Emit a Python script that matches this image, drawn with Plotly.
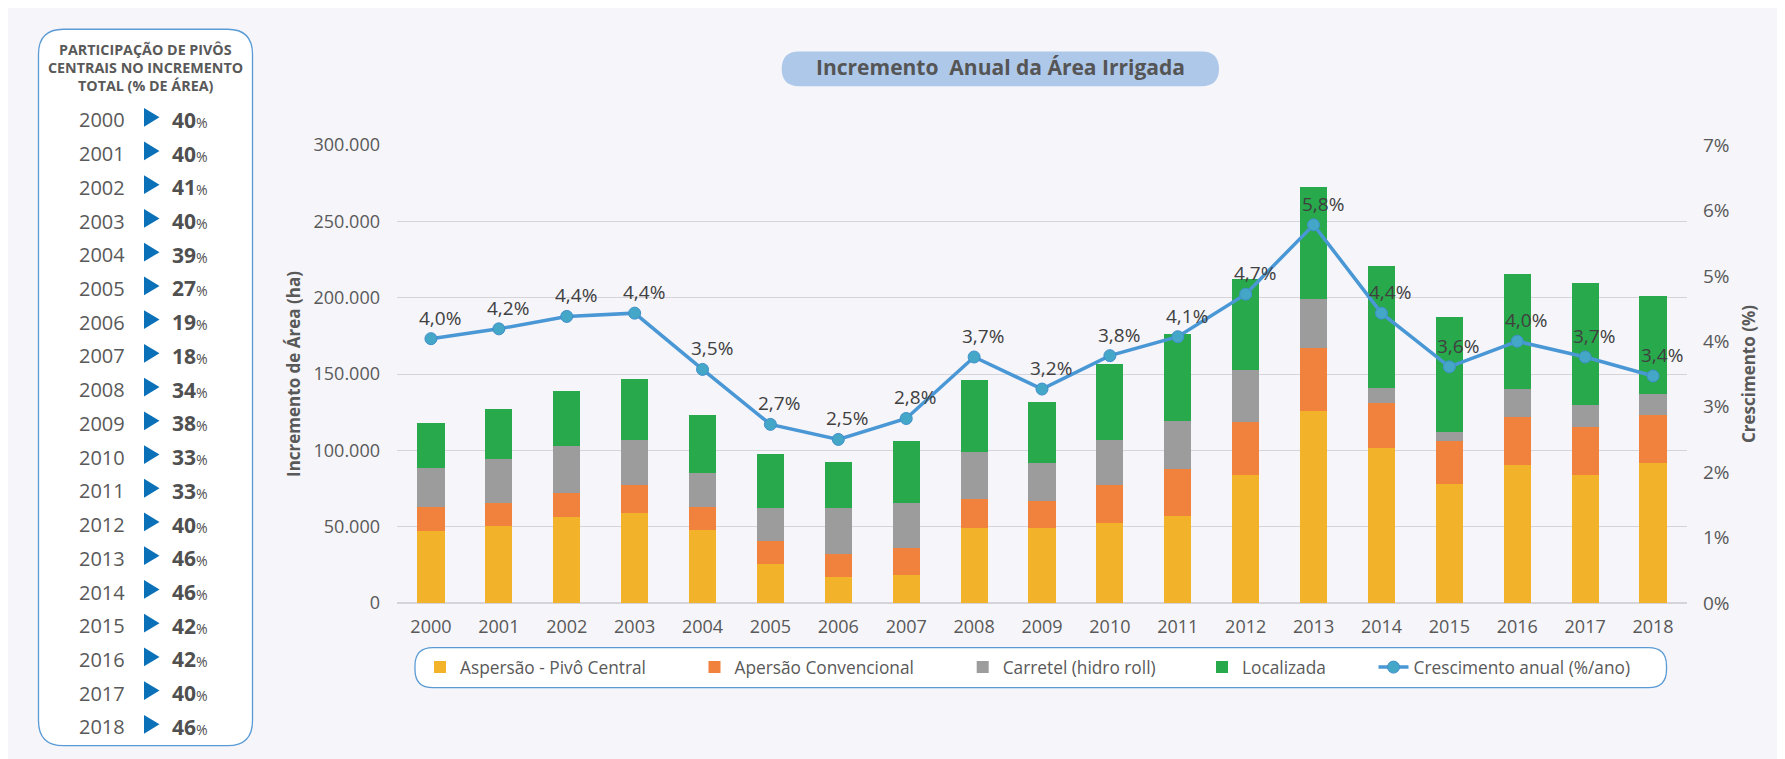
import plotly.graph_objects as go

# ---------------- data ----------------
years = ["2000", "2001", "2002", "2003", "2004", "2005", "2006", "2007", "2008", "2009",
         "2010", "2011", "2012", "2013", "2014", "2015", "2016", "2017", "2018"]
pivo_central = [47000, 50200, 56600, 59200, 47500, 25800, 16800, 18600, 48900, 48900,
                52200, 57200, 84100, 125700, 101300, 77700, 90300, 84000, 91500]
convencional = [15900, 15100, 15300, 17900, 15200, 14600, 15600, 17200, 19400, 17700,
                24800, 30400, 34700, 41100, 29900, 28400, 31300, 31600, 31400]
carretel = [25400, 28800, 30800, 29700, 22300, 21600, 29900, 29900, 30500, 24900,
            29600, 31700, 33600, 32300, 9800, 6000, 18600, 14100, 14000]
localizada = [29900, 33300, 36200, 40200, 38200, 35400, 30300, 40200, 47400, 40200,
              49900, 56700, 59900, 73500, 79700, 75500, 75500, 79700, 64200]
crescimento = [4.04, 4.19, 4.38, 4.43, 3.57, 2.73, 2.50, 2.82, 3.76, 3.27,
               3.78, 4.07, 4.72, 5.78, 4.43, 3.61, 4.00, 3.76, 3.47]
crescimento_labels = ["4,0%", "4,2%", "4,4%", "4,4%", "3,5%", "2,7%", "2,5%", "2,8%", "3,7%", "3,2%",
                      "3,8%", "4,1%", "4,7%", "5,8%", "4,4%", "3,6%", "4,0%", "3,7%", "3,4%"]
participacao_pivo = [40, 40, 41, 40, 39, 27, 19, 18, 34, 38, 33, 33, 40, 46, 46, 42, 42, 40, 46]

series_names = ["Aspersão - Pivô Central", "Apersão Convencional", "Carretel (hidro roll)", "Localizada"]
line_name = "Crescimento anual (%/ano)"
chart_title = "Incremento  Anual da Área Irrigada"
panel_title_lines = ["PARTICIPAÇÃO DE PIVÔS", "CENTRAIS NO INCREMENTO", "TOTAL (% DE ÁREA)"]

# ---------------- geometry helpers ----------------
# positions below are page pixels; the figure sits 8px in from the page's top-left corner
W, H = 1785, 759
OFF = 8
PLOT_L, PLOT_R, PLOT_T, PLOT_B = 397, 1687, 144.5, 603.5
ML = PLOT_L - OFF
MR = W - (PLOT_R - OFF)
MT = PLOT_T - OFF
MB = H - (PLOT_B - OFF)
PW, PH = W - ML - MR, H - MT - MB


def px_x(px):
    return (px - OFF - ML) / PW


def px_y(py):
    return (H - MB - (py - OFF)) / PH


def rounded_rect(x0, y0, x1, y1, r):
    pts = [
        ("M", [(x0 + r, y0)]), ("L", [(x1 - r, y0)]), ("Q", [(x1, y0), (x1, y0 + r)]),
        ("L", [(x1, y1 - r)]), ("Q", [(x1, y1), (x1 - r, y1)]), ("L", [(x0 + r, y1)]),
        ("Q", [(x0, y1), (x0, y1 - r)]), ("L", [(x0, y0 + r)]), ("Q", [(x0, y0), (x0 + r, y0)]),
    ]
    s = ""
    for cmd, plist in pts:
        s += cmd + " " + " ".join(f"{px_x(a):.6f},{px_y(b):.6f}" for a, b in plist) + " "
    return s + "Z"


FONT = "Open Sans, Noto Sans, sans-serif"
TXT = "#595959"
colors = ["#f2b32b", "#f0823d", "#9c9c9c", "#28a94b"]

fig = go.Figure()
legend_ids = ["legend", "legend2", "legend3", "legend4", "legend5"]
for vals, name, col, lg in zip([pivo_central, convencional, carretel, localizada],
                               series_names, colors, legend_ids[:4]):
    fig.add_trace(go.Bar(x=years, y=vals, name=name, marker_color=col,
                         marker_line_width=0, legend=lg))

fig.add_trace(go.Scatter(x=years, y=crescimento, name=line_name, yaxis="y2",
                         mode="lines+markers", legend="legend5",
                         line=dict(color="#4a97d5", width=3.5),
                         marker=dict(size=12, color="#44a7c8",
                                     line=dict(color="#3f8fcb", width=1))))

annotations = []
for i, (v, lab) in enumerate(zip(crescimento, crescimento_labels)):
    annotations.append(dict(x=i, y=v, xref="x", yref="y2", text=lab, showarrow=False,
                            xshift=9, yshift=21, font=dict(family=FONT, size=19, color="#404040")))

shapes = []
# title pill
shapes.append(dict(type="path", xref="paper", yref="paper", layer="below",
                   path=rounded_rect(781.7, 50.7, 1219, 85.7, 17.5),
                   fillcolor="#aec8ea", line=dict(width=0)))
# legend box
shapes.append(dict(type="path", xref="paper", yref="paper", layer="below",
                   path=rounded_rect(415, 648.3, 1666.5, 688.3, 18),
                   fillcolor="#ffffff", line=dict(color="#5b9bd5", width=1.3)))
# left panel box
shapes.append(dict(type="path", xref="paper", yref="paper", layer="below",
                   path=rounded_rect(38.5, 28.5, 252.5, 746.5, 25),
                   fillcolor="#ffffff", line=dict(color="#5b9bd5", width=1.3)))

for k, line in enumerate(panel_title_lines):
    annotations.append(dict(x=px_x(145.5), y=px_y(48.5 + 18.4 * k), xref="paper", yref="paper",
                            text=f"<b>{line}</b>", showarrow=False, xanchor="center", yanchor="middle",
                            font=dict(family=FONT, size=14.3, color=TXT)))

row0, drow = 119.3, 33.8
for i, (yr, p) in enumerate(zip(years, participacao_pivo)):
    yc = row0 + i * drow
    annotations.append(dict(x=px_x(127), y=px_y(yc), xref="paper", yref="paper",
                            text=yr, showarrow=False, xanchor="right", yanchor="middle",
                            font=dict(family=FONT, size=20, color=TXT)))
    annotations.append(dict(x=px_x(169.5), y=px_y(yc), xref="paper", yref="paper",
                            text=f"<b>{p}</b><span style='font-size:14px'>%</span>",
                            showarrow=False, xanchor="left", yanchor="middle",
                            font=dict(family=FONT, size=21, color="#505050")))
    tri = (f"M {px_x(144):.6f},{px_y(yc - 12):.6f} L {px_x(159.5):.6f},{px_y(yc - 2.6):.6f} "
           f"L {px_x(144):.6f},{px_y(yc + 6.8):.6f} Z")
    shapes.append(dict(type="path", xref="paper", yref="paper", path=tri,
                       fillcolor="#0a70b8", line=dict(width=0)))

legend_common = dict(orientation="h", yanchor="middle", y=px_y(668), xanchor="left",
                     bgcolor="rgba(0,0,0,0)", borderwidth=0,
                     font=dict(family=FONT, size=17.3, color=TXT))
item_text_starts = [462, 736.5, 1004.7, 1244, 1413.5]
legend_offsets = [42, 42, 42, 42, 40]
legend_layouts = {}
for lg, ts, off in zip(legend_ids, item_text_starts, legend_offsets):
    legend_layouts[lg] = dict(legend_common, x=px_x(ts - off))

fig.update_layout(
    width=W, height=H,
    margin=dict(l=ML, r=MR, t=MT, b=MB, pad=0, autoexpand=False),
    paper_bgcolor="#f5f5fa", plot_bgcolor="#f5f5fa",
    barmode="stack", bargap=0.6,
    separators=",.",
    font=dict(family=FONT, color=TXT),
    title=dict(text=chart_title, x=(1000.5 - OFF) / W, xanchor="center",
               y=1 - (68 - OFF) / H, yanchor="middle",
               font=dict(family=FONT, size=21, color="#555555", weight="bold")),
    xaxis=dict(type="category", range=[-0.5, len(years) - 0.5], showgrid=False, showline=False,
               ticks="", tickfont=dict(family=FONT, size=18, color=TXT), ticklabelstandoff=11),
    yaxis=dict(range=[0, 300000], dtick=50000, tickformat=",.0f",
               gridcolor="#d4d4da", gridwidth=1, zeroline=True, zerolinecolor="#d4d4da",
               zerolinewidth=1.5, showline=False, ticks="",
               tickfont=dict(family=FONT, size=18, color=TXT), ticklabelstandoff=16,
               title=dict(text="Incremento de Área (ha)", standoff=8,
                          font=dict(family=FONT, size=17, color=TXT, weight="bold"))),
    yaxis2=dict(range=[0, 7], dtick=1, ticksuffix="%", overlaying="y", side="right",
                showgrid=False, zeroline=False, showline=False, ticks="",
                tickfont=dict(family=FONT, size=19, color=TXT), ticklabelstandoff=15,
                title=dict(text="Crescimento (%)", standoff=14,
                           font=dict(family=FONT, size=17, color=TXT, weight="bold"))),
    shapes=shapes,
    annotations=annotations,
    showlegend=True,
    **legend_layouts,
)

fig.write_html("out.html")
